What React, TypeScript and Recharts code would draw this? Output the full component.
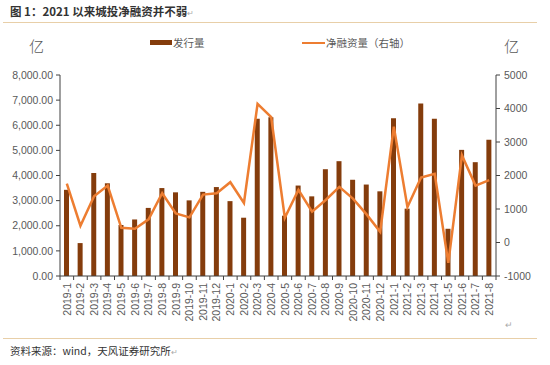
import React from "react";
import { ComposedChart, Bar, Line, XAxis, YAxis, Legend } from "recharts";

const categories = [
  "2019-1", "2019-2", "2019-3", "2019-4", "2019-5", "2019-6", "2019-7", "2019-8",
  "2019-9", "2019-10", "2019-11", "2019-12", "2020-1", "2020-2", "2020-3", "2020-4",
  "2020-5", "2020-6", "2020-7", "2020-8", "2020-9", "2020-10", "2020-11", "2020-12",
  "2021-1", "2021-2", "2021-3", "2021-4", "2021-5", "2021-6", "2021-7", "2021-8",
];

const issuance = [
  3430, 1310, 4100, 3690, 2030, 2250, 2710, 3500,
  3330, 3010, 3350, 3540, 2980, 2320, 6260, 6320,
  2400, 3600, 3170, 4250, 4570, 3830, 3640, 3370,
  6280, 2680, 6870, 6260, 1880, 5020, 4530, 5420,
];

const netFinancing = [
  1760, 500, 1380, 1700, 440, 410, 690, 1470,
  870, 750, 1430, 1470, 1800, 1180, 4140, 3740,
  740, 1570, 920, 1270, 1660, 1310, 840, 320,
  3460, 1060, 1940, 2050, -610, 2600, 1700, 1860,
];

const leftTicks = [0, 1000, 2000, 3000, 4000, 5000, 6000, 7000, 8000];
const rightTicks = [-1000, 0, 1000, 2000, 3000, 4000, 5000];

const SERIES_BAR = "发行量";
const SERIES_LINE = "净融资量（右轴）";
const TITLE = "图 1：2021 以来城投净融资并不弱";
const SOURCE = "资料来源：wind，天风证券研究所";
const UNIT = "亿";

const data = categories.map((c, i) => ({
  name: c,
  issuance: issuance[i],
  net: netFinancing[i],
}));

const BAR_COLOR = "#843c0c";
const LINE_COLOR = "#ed7d31";
const AXIS_COLOR = "#404040";
const TEXT_COLOR = "#595959";
const LATIN = "'Liberation Sans', Arial, 'Noto Sans CJK SC', sans-serif";
const CJK = "'Noto Sans CJK SC', 'Liberation Sans', sans-serif";

const CHART_W = 550;
const CHART_H = 330;
const LEFT_W = 60;
const RIGHT_W = 54;
const PLOT_W = CHART_W - LEFT_W - RIGHT_W;
const BAND = PLOT_W / categories.length;

const fmtLeft = (v: number) =>
  v.toLocaleString("en-US", { minimumFractionDigits: 2, maximumFractionDigits: 2 });

const XTick = (props: any) => {
  const { x, y, payload, index } = props;
  const axisY = y - 7;
  return (
    <g>
      <line x1={x - BAND / 2} x2={x - BAND / 2} y1={axisY} y2={axisY + 4} stroke={AXIS_COLOR} strokeWidth={1} />
      {index === categories.length - 1 && (
        <line x1={x + BAND / 2} x2={x + BAND / 2} y1={axisY} y2={axisY + 4} stroke={AXIS_COLOR} strokeWidth={1} />
      )}
      <text
        x={x}
        y={y}
        dy="0.36em"
        transform={`rotate(-90, ${x}, ${y})`}
        textAnchor="end"
        fill={TEXT_COLOR}
        fontSize={10.5}
        fontFamily={LATIN}
      >
        {payload.value}
      </text>
    </g>
  );
};

const LegendContent = () => (
  <div style={{ position: "relative", height: 16, fontFamily: CJK, fontSize: 10.5, color: TEXT_COLOR }}>
    <div style={{ position: "absolute", left: 150, top: 4, width: 22, height: 5, background: BAR_COLOR }} />
    <div style={{ position: "absolute", left: 173, top: -1, whiteSpace: "nowrap" }}>{SERIES_BAR}</div>
    <div style={{ position: "absolute", left: 302, top: 6, width: 23, height: 2, background: LINE_COLOR }} />
    <div style={{ position: "absolute", left: 326, top: -1, whiteSpace: "nowrap" }}>{SERIES_LINE}</div>
  </div>
);

export default function App() {
  return (
    <div style={{ position: "absolute", left: 0, top: 0, width: 550, height: 365, background: "#fff", overflow: "hidden" }}>
      <div style={{ position: "absolute", left: 10, top: 3, fontFamily: CJK, fontSize: 11.5, fontWeight: 700, color: "#333", whiteSpace: "nowrap" }}>
        {TITLE}
        <span style={{ fontWeight: 400, fontSize: 8, color: "#aaa" }}>↵</span>
      </div>
      <div style={{ position: "absolute", left: 3, top: 22, width: 534, height: 1, background: "#e8cfa8" }} />
      <div style={{ position: "absolute", left: 0, top: 0 }}>
        <ComposedChart width={CHART_W} height={CHART_H} data={data} margin={{ top: 59, right: 0, left: 0, bottom: 0 }}>
          <Legend verticalAlign="top" content={<LegendContent />} wrapperStyle={{ top: 36, left: 0, width: 550 }} />
          <XAxis
            dataKey="name"
            interval={0}
            height={54}
            tickLine={false}
            tickSize={4}
            tickMargin={3}
            axisLine={{ stroke: AXIS_COLOR }}
            tick={<XTick />}
          />
          <YAxis
            yAxisId="left"
            width={LEFT_W}
            domain={[0, 8000]}
            ticks={leftTicks}
            tickFormatter={fmtLeft}
            tickSize={4}
            tickMargin={3}
            axisLine={{ stroke: AXIS_COLOR }}
            tickLine={{ stroke: AXIS_COLOR }}
            tick={{ fill: TEXT_COLOR, fontSize: 10.5, fontFamily: LATIN }}
            interval={0}
          />
          <YAxis
            yAxisId="right"
            orientation="right"
            width={RIGHT_W}
            domain={[-1000, 5000]}
            ticks={rightTicks}
            tickSize={4}
            tickMargin={4}
            axisLine={{ stroke: AXIS_COLOR }}
            tickLine={{ stroke: AXIS_COLOR }}
            tick={{ fill: TEXT_COLOR, fontSize: 10.5, fontFamily: LATIN }}
            interval={0}
          />
          <Bar yAxisId="left" dataKey="issuance" name={SERIES_BAR} fill={BAR_COLOR} barSize={5} isAnimationActive={false} />
          <Line
            yAxisId="right"
            dataKey="net"
            name={SERIES_LINE}
            stroke={LINE_COLOR}
            strokeWidth={2.5}
            dot={false}
            activeDot={false}
            isAnimationActive={false}
          />
        </ComposedChart>
      </div>
      <div style={{ position: "absolute", left: 29, top: 35, fontFamily: CJK, fontSize: 15, fontWeight: 300, color: TEXT_COLOR }}>{UNIT}</div>
      <div style={{ position: "absolute", left: 504, top: 35, fontFamily: CJK, fontSize: 15, fontWeight: 300, color: TEXT_COLOR }}>{UNIT}</div>
      <div style={{ position: "absolute", left: 505, top: 320, fontSize: 9, color: "#aaa", fontFamily: LATIN }}>↵</div>
      <div style={{ position: "absolute", left: 3, top: 338, width: 534, height: 1, background: "#e8cfa8" }} />
      <div style={{ position: "absolute", left: 10, top: 343, fontFamily: CJK, fontSize: 10.5, color: "#333", whiteSpace: "nowrap" }}>
        {SOURCE}
        <span style={{ fontSize: 8, color: "#aaa" }}>↵</span>
      </div>
    </div>
  );
}
